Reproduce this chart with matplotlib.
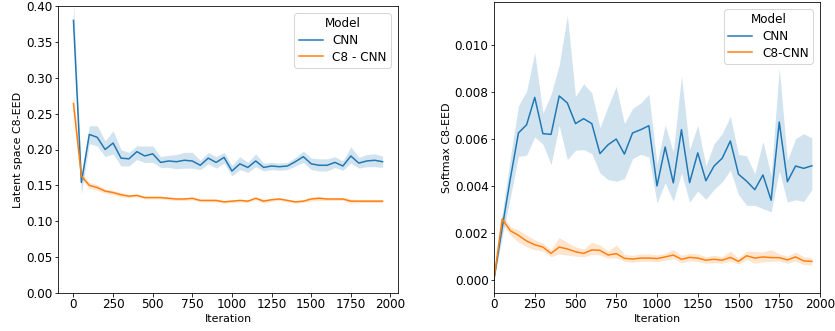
import numpy as np
import matplotlib
matplotlib.use("Agg")
import matplotlib.pyplot as plt

iterations = np.arange(0, 2000, 50)

# Latent space C8-EED (mean and confidence-band bounds)
latent_cnn = [0.380, 0.154, 0.221, 0.217, 0.200, 0.209, 0.188, 0.187, 0.197, 0.191,
              0.194, 0.182, 0.184, 0.183, 0.185, 0.184, 0.178, 0.188, 0.182, 0.189,
              0.170, 0.180, 0.175, 0.184, 0.175, 0.177, 0.176, 0.177, 0.183, 0.190,
              0.180, 0.178, 0.178, 0.182, 0.177, 0.191, 0.181, 0.184, 0.185, 0.183]
latent_cnn_lo = [0.365, 0.138, 0.208, 0.205, 0.190, 0.194, 0.177, 0.177, 0.186, 0.182,
                 0.182, 0.175, 0.175, 0.173, 0.174, 0.174, 0.172, 0.180, 0.174, 0.181,
                 0.163, 0.172, 0.168, 0.176, 0.170, 0.172, 0.171, 0.172, 0.177, 0.182,
                 0.172, 0.170, 0.170, 0.175, 0.171, 0.181, 0.174, 0.176, 0.176, 0.175]
latent_cnn_hi = [0.410, 0.166, 0.233, 0.233, 0.212, 0.226, 0.200, 0.196, 0.205, 0.205,
                 0.205, 0.190, 0.192, 0.193, 0.196, 0.196, 0.185, 0.196, 0.190, 0.196,
                 0.178, 0.190, 0.182, 0.194, 0.181, 0.182, 0.181, 0.182, 0.189, 0.198,
                 0.188, 0.187, 0.187, 0.190, 0.184, 0.204, 0.189, 0.193, 0.194, 0.191]

latent_c8 = [0.264, 0.163, 0.150, 0.147, 0.142, 0.140, 0.137, 0.135, 0.136, 0.133,
             0.133, 0.133, 0.132, 0.131, 0.131, 0.132, 0.129, 0.129, 0.129, 0.127,
             0.128, 0.129, 0.128, 0.132, 0.128, 0.130, 0.131, 0.129, 0.127, 0.128,
             0.131, 0.132, 0.131, 0.131, 0.131, 0.128, 0.128, 0.128, 0.128, 0.128]
latent_c8_hw = [0.016, 0.004, 0.004, 0.004, 0.003, 0.003, 0.003, 0.002, 0.002, 0.002,
                0.002, 0.002, 0.002, 0.002, 0.002, 0.002, 0.002, 0.002, 0.002, 0.002,
                0.002, 0.002, 0.002, 0.002, 0.003, 0.002, 0.002, 0.002, 0.002, 0.002,
                0.003, 0.003, 0.002, 0.002, 0.002, 0.003, 0.002, 0.002, 0.002, 0.002]

# Softmax C8-EED (mean and confidence-band bounds)
soft_cnn = [0.00002, 0.00220, 0.00430, 0.00626, 0.00661, 0.00778, 0.00623, 0.00620,
            0.00784, 0.00754, 0.00666, 0.00687, 0.00666, 0.00538, 0.00576, 0.00600,
            0.00536, 0.00626, 0.00640, 0.00657, 0.00400, 0.00566, 0.00413, 0.00640,
            0.00414, 0.00541, 0.00422, 0.00485, 0.00518, 0.00592, 0.00450, 0.00420,
            0.00384, 0.00447, 0.00339, 0.00673, 0.00418, 0.00485, 0.00475, 0.00486]
soft_cnn_lo = [0.00000, 0.00180, 0.00350, 0.00526, 0.00531, 0.00609, 0.00578, 0.00491,
               0.00659, 0.00512, 0.00552, 0.00555, 0.00538, 0.00455, 0.00427, 0.00420,
               0.00431, 0.00516, 0.00535, 0.00523, 0.00327, 0.00413, 0.00334, 0.00455,
               0.00331, 0.00378, 0.00343, 0.00385, 0.00417, 0.00467, 0.00363, 0.00317,
               0.00317, 0.00303, 0.00289, 0.00464, 0.00331, 0.00341, 0.00334, 0.00384]
soft_cnn_hi = [0.00010, 0.00280, 0.00520, 0.00743, 0.00805, 0.00969, 0.00711, 0.00791,
               0.00916, 0.01128, 0.00782, 0.00836, 0.00797, 0.00649, 0.00740, 0.00825,
               0.00666, 0.00731, 0.00754, 0.00791, 0.00495, 0.00660, 0.00545, 0.00869,
               0.00555, 0.00659, 0.00486, 0.00580, 0.00623, 0.00697, 0.00535, 0.00528,
               0.00452, 0.00590, 0.00445, 0.00903, 0.00509, 0.00602, 0.00623, 0.00605]

soft_c8 = [0.00002, 0.00259, 0.00209, 0.00189, 0.00165, 0.00149, 0.00139, 0.00112,
           0.00139, 0.00131, 0.00119, 0.00112, 0.00127, 0.00125, 0.00105, 0.00111,
           0.00091, 0.00088, 0.00092, 0.00092, 0.00090, 0.00097, 0.00105, 0.00087,
           0.00095, 0.00092, 0.00083, 0.00087, 0.00083, 0.00095, 0.00078, 0.00102,
           0.00092, 0.00097, 0.00094, 0.00094, 0.00084, 0.00097, 0.00080, 0.00078]
soft_c8_lo = [0.00000, 0.00238, 0.00190, 0.00160, 0.00140, 0.00128, 0.00122, 0.00098,
              0.00110, 0.00105, 0.00100, 0.00098, 0.00108, 0.00105, 0.00092, 0.00094,
              0.00078, 0.00074, 0.00078, 0.00078, 0.00076, 0.00082, 0.00090, 0.00072,
              0.00080, 0.00078, 0.00070, 0.00072, 0.00070, 0.00080, 0.00066, 0.00086,
              0.00070, 0.00076, 0.00078, 0.00080, 0.00070, 0.00080, 0.00064, 0.00062]
soft_c8_hi = [0.00005, 0.00280, 0.00226, 0.00212, 0.00190, 0.00170, 0.00156, 0.00128,
              0.00180, 0.00158, 0.00140, 0.00130, 0.00160, 0.00148, 0.00122, 0.00148,
              0.00108, 0.00104, 0.00110, 0.00110, 0.00106, 0.00112, 0.00128, 0.00104,
              0.00112, 0.00110, 0.00098, 0.00104, 0.00098, 0.00122, 0.00092, 0.00122,
              0.00120, 0.00118, 0.00128, 0.00110, 0.00100, 0.00118, 0.00098, 0.00092]

BLUE = "#1f77b4"
ORANGE = "#ff7f0e"
TICK_FS = 12
LABEL_FS = 11
LEGEND_FS = 12

fig = plt.figure(figsize=(835 / 72, 331 / 72), dpi=72)
ax1 = fig.add_axes([58 / 835, 38 / 331, 340 / 835, 287 / 331])
ax2 = fig.add_axes([494 / 835, 38 / 331, 326 / 835, 291 / 331])


def draw(ax, x, mean, lo, hi, color, label):
    ax.fill_between(x, lo, hi, color=color, alpha=0.2, linewidth=0)
    ax.plot(x, mean, color=color, linewidth=1.5, label=label)


def add_legend(ax):
    ax.legend(title="Model", loc="upper right", fontsize=LEGEND_FS,
              title_fontsize=LEGEND_FS, labelspacing=0.3, borderpad=0.35,
              borderaxespad=0.6)


# Left panel
latent_c8_lo = np.array(latent_c8) - np.array(latent_c8_hw)
latent_c8_hi = np.array(latent_c8) + np.array(latent_c8_hw)
draw(ax1, iterations, latent_cnn, latent_cnn_lo, latent_cnn_hi, BLUE, "CNN")
draw(ax1, iterations, latent_c8, latent_c8_lo, latent_c8_hi, ORANGE, "C8 - CNN")
ax1.set_ylim(0, 0.40)
ax1.set_xlim(-97.5, 2047.5)
ax1.set_xticks([0, 250, 500, 750, 1000, 1250, 1500, 1750, 2000])
ax1.set_yticks(np.arange(0, 0.401, 0.05))
ax1.set_yticklabels([f"{v:.2f}" for v in np.arange(0, 0.401, 0.05)])
ax1.set_xlabel("Iteration", fontsize=LABEL_FS, labelpad=2)
ax1.set_ylabel("Latent space C8-EED", fontsize=LABEL_FS, labelpad=3)
add_legend(ax1)

# Right panel
draw(ax2, iterations, soft_cnn, soft_cnn_lo, soft_cnn_hi, BLUE, "CNN")
draw(ax2, iterations, soft_c8, soft_c8_lo, soft_c8_hi, ORANGE, "C8-CNN")
ax2.set_xlim(0, 2000)
ax2.set_ylim(-0.00057, 0.01185)
ax2.set_xticks([0, 250, 500, 750, 1000, 1250, 1500, 1750, 2000])
ax2.set_yticks([0.0, 0.002, 0.004, 0.006, 0.008, 0.010])
ax2.set_yticklabels(["0.000", "0.002", "0.004", "0.006", "0.008", "0.010"])
ax2.set_xlabel("Iteration", fontsize=LABEL_FS, labelpad=2)
ax2.set_ylabel("Softmax C8-EED", fontsize=LABEL_FS, labelpad=3)
add_legend(ax2)

for ax in (ax1, ax2):
    ax.tick_params(labelsize=TICK_FS, pad=2)

fig.savefig("out.png", dpi=72)
